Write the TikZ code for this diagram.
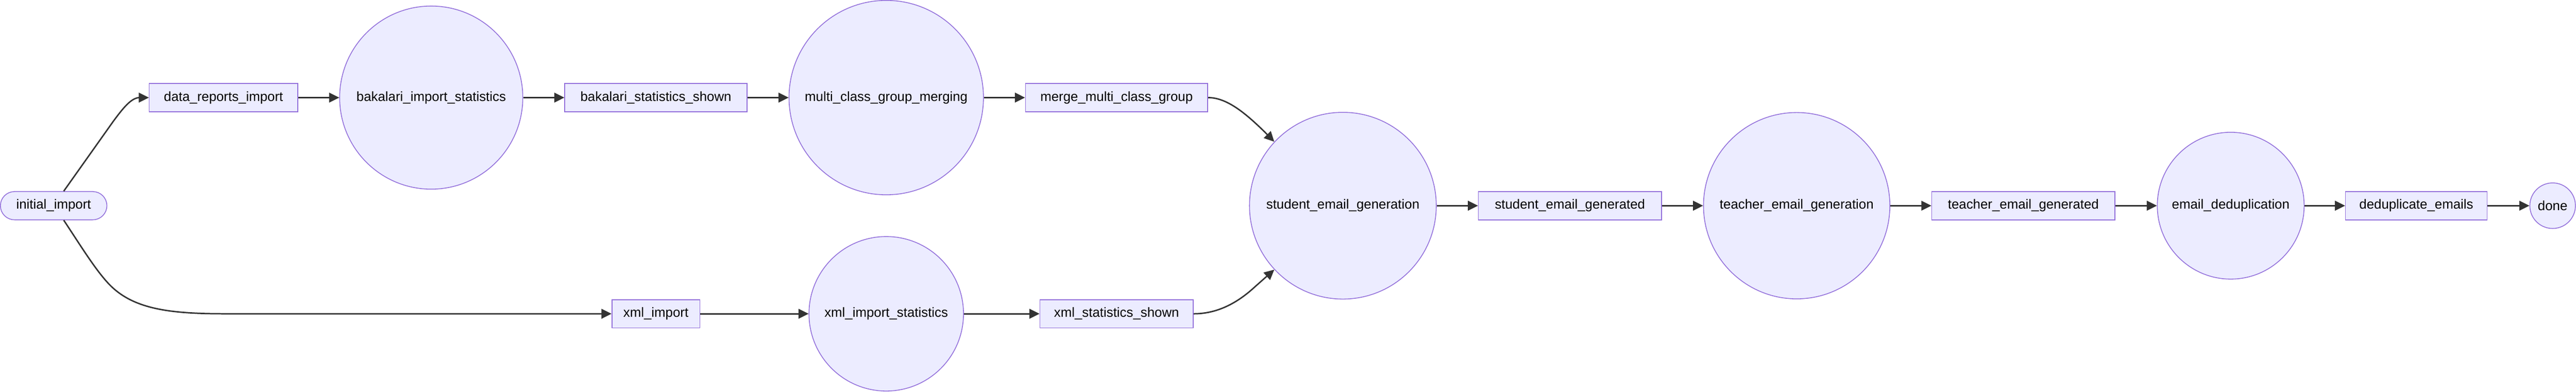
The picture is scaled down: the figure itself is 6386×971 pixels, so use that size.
\documentclass[tikz,border=0pt]{standalone}
\usepackage{fontspec}
\setmainfont{Liberation Sans}
\usetikzlibrary{arrows.meta,calc}
\definecolor{nodefill}{HTML}{ECECFF}
\definecolor{nodeline}{HTML}{9370DB}
\definecolor{edgecol}{HTML}{333333}
\tikzset{
  basenode/.style={fill=nodefill, draw=nodeline, line width=2pt, font=\fontsize{33}{40}\selectfont, text=black, inner sep=0pt},
  rectnode/.style={basenode, rectangle, minimum height=70pt},
  circnode/.style={basenode, circle},
  stadiumnode/.style={basenode, rectangle, rounded corners=35pt, minimum height=70pt},
  edgeline/.style={draw=edgecol, line width=3.5pt, -{Triangle[length=25pt,width=24pt]}},
}
\begin{document}
\begin{tikzpicture}[x=1pt,y=-1pt]
\useasboundingbox[fill=white] (0,0) rectangle (6386,971);
% nodes
\node[stadiumnode, minimum width=264pt] (init) at (133,510) {initial\_import};
\node[rectnode, minimum width=368pt] (dri) at (554,242) {data\_reports\_import};
\node[circnode, minimum size=454pt] (bis) at (1069,242) {bakalari\_import\_statistics};
\node[rectnode, minimum width=452pt] (bss) at (1626,242) {bakalari\_statistics\_shown};
\node[circnode, minimum size=482pt] (mcgm) at (2197,242) {multi\_class\_group\_merging};
\node[rectnode, minimum width=452pt] (mmcg) at (2768,242) {merge\_multi\_class\_group};
\node[rectnode, minimum width=218pt] (xmli) at (1626,778) {xml\_import};
\node[circnode, minimum size=383pt] (xis) at (2197,778) {xml\_import\_statistics};
\node[rectnode, minimum width=380pt] (xss) at (2768,778) {xml\_statistics\_shown};
\node[circnode, minimum size=463pt] (seg) at (3329,510) {student\_email\_generation};
\node[rectnode, minimum width=454pt] (segd) at (3892,510) {student\_email\_generated};
\node[circnode, minimum size=462pt] (teg) at (4454,510) {teacher\_email\_generation};
\node[rectnode, minimum width=454pt] (tegd) at (5016,510) {teacher\_email\_generated};
\node[circnode, minimum size=364pt] (ed) at (5530,510) {email\_deduplication};
\node[rectnode, minimum width=351pt] (de) at (5990,510) {deduplicate\_emails};
\node[circnode, minimum size=113pt] (done) at (6328,510) {done};
% edges
\draw[edgeline] ([xshift=25pt]init.north) -- (280,302) .. controls (305,268) and (325,243) .. (345,242) -- (dri.west);
\draw[edgeline] ([xshift=25pt]init.south) .. controls (196,603) and (233.5,664.5) .. (267,701)
  .. controls (327,767) and (420,778) .. (560,778) -- (xmli.west);
\draw[edgeline] (dri) -- (bis);
\draw[edgeline] (bis) -- (bss);
\draw[edgeline] (bss) -- (mcgm);
\draw[edgeline] (mcgm) -- (mmcg);
\draw[edgeline] (xmli) -- (xis);
\draw[edgeline] (xis) -- (xss);
\draw[edgeline] (mmcg.east) .. controls (3040,242) and (3085,278) .. (3135,327) -- (seg.137);
\draw[edgeline] (xss.east) .. controls (3010,778) and (3060,758) .. (3110,712) -- (seg.223);
\draw[edgeline] (seg) -- (segd);
\draw[edgeline] (segd) -- (teg);
\draw[edgeline] (teg) -- (tegd);
\draw[edgeline] (tegd) -- (ed);
\draw[edgeline] (ed) -- (de);
\draw[edgeline] (de) -- (done);
\end{tikzpicture}
\end{document}
